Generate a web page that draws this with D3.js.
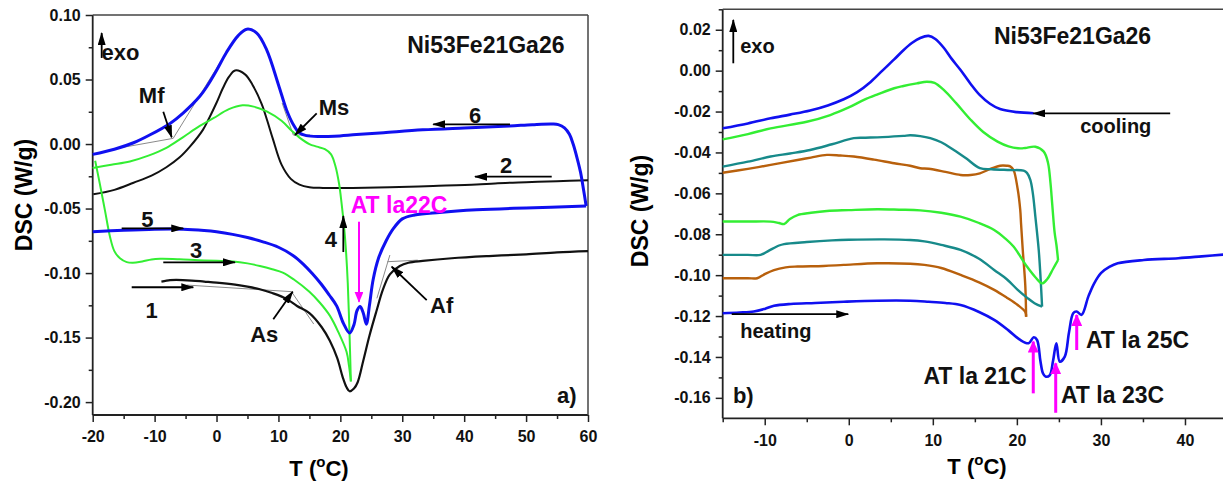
<!DOCTYPE html>
<html>
<head>
<meta charset="utf-8">
<script src="https://cdn.jsdelivr.net/npm/d3@7"></script>
<style>
  body { margin: 0; background: #fff; }
  svg { display: block; font-family: "Liberation Sans", Arial, sans-serif; font-weight: bold; }
</style>
</head>
<body>
<div id="chart"></div>
<script>
const width = 1223;
const height = 483;

// ---------- panel a) : [T (oC), DSC (W/g)] ----------
const a_heat1 = [[-8.9,-0.1066],[-7.5,-0.1055],[-6.5,-0.1053],[-4,-0.1058],[-2,-0.1066],[0,-0.1074],[3,-0.109],[5,-0.1105],[7,-0.1125],[9,-0.1155],[11.3,-0.120],[13,-0.1255],[15,-0.131],[17,-0.142],[18.3,-0.1525],[19.5,-0.166],[20.4,-0.181],[21,-0.1885],[21.5,-0.1916],[22.2,-0.1895],[22.8,-0.1846],[23.7,-0.168],[24.7,-0.1486],[25.8,-0.130],[26.9,-0.1125],[28,-0.101],[29.6,-0.0945],[31,-0.092],[33.3,-0.0906],[38,-0.0885],[44,-0.0868],[50,-0.0855],[55,-0.084],[60,-0.083]];
const a_cool2 = [[60,-0.028],[55,-0.0288],[50,-0.0296],[45,-0.0305],[42,-0.0314],[35,-0.0325],[28,-0.0335],[22,-0.034],[17.2,-0.034],[15,-0.0335],[13.4,-0.0315],[12,-0.027],[10.5,-0.016],[9.1,0.004],[8.2,0.018],[7.3,0.031],[5.8,0.046],[4.6,0.054],[3.0,0.057],[2.0,0.052],[1.0,0.043],[0,0.032],[-1.2,0.020],[-2.2,0.011],[-4.3,-0.002],[-6,-0.0105],[-8.1,-0.018],[-10.5,-0.0245],[-13.4,-0.030],[-16.5,-0.0355],[-19.9,-0.039]];
const a_heat3 = [[-19.6,-0.013],[-18.8,-0.032],[-18,-0.052],[-17.2,-0.072],[-16.5,-0.083],[-15.6,-0.0885],[-14.5,-0.0915],[-13.5,-0.092],[-12,-0.091],[-10.5,-0.0895],[-9.1,-0.089],[-6,-0.0893],[-3,-0.090],[0,-0.0905],[2.7,-0.091],[5,-0.0925],[7,-0.0945],[9,-0.097],[10.7,-0.0996],[12.5,-0.105],[15,-0.1145],[16.7,-0.123],[18.3,-0.133],[19.7,-0.146],[21,-0.161],[21.4,-0.172],[21.7,-0.184]];
const a_cool4 = [[21.7,-0.184],[21.5,-0.15],[21.2,-0.108],[20.9,-0.082],[20.6,-0.064],[20.2,-0.046],[19.8,-0.031],[19.2,-0.017],[18.5,-0.008],[17.5,-0.004],[16.2,-0.002],[15,0.000],[13.4,0.005],[12.2,0.010],[10.5,0.018],[8.1,0.0253],[6,0.029],[4.2,0.030],[2,0.027],[-0.5,0.020],[-2.7,0.014],[-5.5,0.005],[-8.1,-0.003],[-11,-0.009],[-14,-0.0135],[-17,-0.016],[-20,-0.0185]];
const a_heat5 = [[-20,-0.068],[-15,-0.0668],[-10,-0.066],[-5.4,-0.066],[-2,-0.067],[0,-0.068],[2.6,-0.070],[5,-0.0725],[7.5,-0.0758],[10,-0.0800],[12.4,-0.0865],[14,-0.093],[15.5,-0.1005],[16.9,-0.1085],[18.2,-0.117],[19.4,-0.1254],[20.5,-0.139],[21.5,-0.1465],[22.2,-0.140],[22.7,-0.129],[23.2,-0.126],[23.7,-0.131],[24.2,-0.1396],[24.7,-0.125],[25.3,-0.105],[26.2,-0.088],[27.4,-0.075],[28.5,-0.066],[30,-0.058],[32,-0.055],[36,-0.053],[42,-0.051],[48,-0.0498],[54,-0.049],[59.7,-0.048]];
const a_cool6 = [[59.7,-0.048],[59.3,-0.036],[58.8,-0.022],[58.3,-0.012],[57.6,0.000],[57,0.0075],[56.2,0.0125],[55.2,0.015],[54.3,0.0155],[51,0.015],[47.3,0.014],[40,0.0125],[33.3,0.011],[27,0.0088],[22.6,0.0073],[19,0.006],[16.7,0.0058],[14.5,0.0065],[13.4,0.0086],[12.3,0.016],[11.3,0.0266],[10,0.046],[8.1,0.073],[6.5,0.086],[4.9,0.089],[3.5,0.084],[1.6,0.071],[0,0.057],[-1.5,0.045],[-2.7,0.037],[-5.4,0.024],[-7.5,0.016],[-10.8,0.007],[-13.4,0.001],[-16.5,-0.004],[-20,-0.008]];
const a_tangents = [
  [[-15.6,-0.0030],[-7.0,0.0044],[0.55,0.0630]],
  [[10.6,0.0318],[12.4,0.0070],[15.1,0.0070]],
  [[-4.8,-0.1093],[12.1,-0.1144],[15.7,-0.1395]],
  [[25.9,-0.1196],[28.0,-0.0860]],
  [[27.6,-0.0912],[32.5,-0.0900]]
];
const a_x_ticks = [-20, -10, 0, 10, 20, 30, 40, 50, 60];
const a_y_ticks = [-0.20, -0.15, -0.10, -0.05, 0.00, 0.05, 0.10];
const a_labels = [
  { text: 'Ni53Fe21Ga26', t: 43.5, v: 0.0703, size: 23 },
  { text: 'exo', t: -15.5, v: 0.0651, size: 22 },
  { text: 'Mf', t: -10.47, v: 0.0316, size: 22 },
  { text: 'Ms', t: 18.98, v: 0.0225, size: 22 },
  { text: '6', t: 41.76, v: 0.0161, size: 22 },
  { text: '2', t: 46.76, v: -0.0227, size: 22 },
  { text: '5', t: -11.15, v: -0.0641, size: 22 },
  { text: '3', t: -3.31, v: -0.0886, size: 22 },
  { text: '1', t: -10.47, v: -0.1350, size: 22 },
  { text: 'As', t: 7.7, v: -0.1532, size: 22 },
  { text: 'Af', t: 36.37, v: -0.1312, size: 22 },
  { text: '4', t: 18.46, v: -0.0796, size: 22 },
  { text: 'AT la22C', t: 29.48, v: -0.0537, size: 23, color: '#ff00ff' },
  { text: 'a)', t: 56.56, v: -0.2007, size: 22 }
];
const a_arrows = [
  [[-18.55,0.0667],[-18.55,0.0860]],
  [[-8.6,0.0250],[-7.24,0.0052]],
  [[16.18,0.0238],[12.68,0.0070]],
  [[47.4,0.0153],[35.0,0.0153]],
  [[54.14,-0.0253],[41.75,-0.0253]],
  [[-15.32,-0.0654],[-5.37,-0.0654]],
  [[-8.6,-0.0917],[2.98,-0.0917]],
  [[-13.7,-0.1110],[-3.75,-0.1110]],
  [[9.17,-0.1358],[12.3,-0.1144]],
  [[33.95,-0.1209],[28.3,-0.0951]],
  [[20.48,-0.0837],[20.48,-0.0558]]
];
const a_pink_arrows = [[[23.01,-0.0602],[23.01,-0.1222]]];

// ---------- panel b) ----------
const b_blue_cool = [[22,-0.0208],[20,-0.0203],[18,-0.0188],[16.8,-0.0162],[15.6,-0.0120],[14.5,-0.0065],[13.3,0.0003],[12.2,0.006],[11.3,0.0112],[10.3,0.0155],[9.5,0.017],[8.5,0.016],[7.5,0.0135],[6.5,0.0100],[5.4,0.0055],[4,0.0000],[2.6,-0.0055],[1,-0.0105],[-0.6,-0.0140],[-2.5,-0.0170],[-4.6,-0.0195],[-7,-0.0215],[-9.3,-0.0233],[-12,-0.0258],[-15,-0.0282]];
const b_green_cool = [[24.9,-0.0926],[24.7,-0.085],[24.5,-0.0795],[24.2,-0.065],[24,-0.055],[23.7,-0.045],[23.2,-0.0396],[22.2,-0.0372],[21,-0.0378],[20.4,-0.038],[19,-0.037],[17.7,-0.0347],[16,-0.030],[14.5,-0.024],[12.8,-0.016],[11.3,-0.0094],[10.2,-0.006],[9.3,-0.0054],[8.1,-0.0062],[6.5,-0.0075],[5.4,-0.0086],[3.5,-0.0115],[1.8,-0.0143],[0,-0.018],[-2.2,-0.0217],[-5,-0.025],[-9.3,-0.0282],[-12,-0.031],[-15,-0.0336]];
const b_teal_cool = [[23,-0.1154],[22.8,-0.100],[22.6,-0.0877],[22.2,-0.0714],[21.9,-0.060],[21.6,-0.0534],[21.2,-0.050],[20.8,-0.0489],[19.2,-0.0486],[17,-0.0482],[15.6,-0.0477],[14,-0.043],[12.5,-0.0388],[11,-0.035],[9.7,-0.033],[8.5,-0.032],[7.3,-0.0316],[6.5,-0.0319],[4,-0.0325],[2,-0.0328],[0.6,-0.033],[-2,-0.036],[-4.6,-0.0388],[-7,-0.0405],[-9.3,-0.042],[-12,-0.0445],[-15,-0.0469]];
const b_brown_cool = [[21.1,-0.1203],[21,-0.105],[20.7,-0.0877],[20.5,-0.075],[20.4,-0.0681],[20.1,-0.058],[19.6,-0.0486],[19.2,-0.0468],[18.8,-0.0465],[18,-0.0465],[17,-0.0478],[15.6,-0.0502],[14.5,-0.051],[13.3,-0.051],[11.5,-0.0495],[9.5,-0.048],[8.5,-0.0477],[7.3,-0.0465],[5.4,-0.0453],[3,-0.0435],[0.6,-0.042],[-1,-0.0415],[-2.6,-0.0412],[-4.5,-0.0425],[-6.1,-0.0437],[-9.3,-0.0461],[-12,-0.048],[-15,-0.0499]];
const b_green_heat = [[-15,-0.0738],[-12,-0.0738],[-9.3,-0.0738],[-8.3,-0.0745],[-7.7,-0.075],[-7,-0.0725],[-6.1,-0.0706],[-4.5,-0.0695],[-2.6,-0.0686],[0,-0.0682],[3.4,-0.0678],[6,-0.068],[8.5,-0.0683],[11,-0.0695],[13.3,-0.0714],[15.5,-0.0745],[17.3,-0.0779],[18.6,-0.082],[19.6,-0.086],[21.2,-0.0958],[22.2,-0.101],[23,-0.104],[23.6,-0.102],[24.3,-0.097],[24.9,-0.0926]];
const b_teal_heat = [[-15,-0.0901],[-12,-0.0901],[-10.5,-0.0901],[-9.5,-0.088],[-8.3,-0.0855],[-7.7,-0.0848],[-5,-0.0838],[-2,-0.083],[0,-0.0827],[4.2,-0.0825],[7.3,-0.0828],[9,-0.0835],[11,-0.0852],[13.3,-0.0877],[15.5,-0.092],[17.3,-0.0975],[18.8,-0.102],[20.1,-0.1072],[21.2,-0.111],[22.1,-0.1137],[23,-0.1154]];
const b_brown_heat = [[-15,-0.1015],[-12,-0.1015],[-10.9,-0.1015],[-10,-0.0995],[-8.9,-0.0975],[-7.5,-0.0962],[-6.1,-0.0958],[-3,-0.0955],[-0.6,-0.095],[3.4,-0.0942],[7.3,-0.0944],[9,-0.095],[11,-0.0965],[13.3,-0.0999],[15.5,-0.1035],[17.3,-0.1072],[18.8,-0.111],[20.1,-0.1146],[21,-0.118],[21.1,-0.1203]];
const b_blue_heat = [[-15,-0.1186],[-13,-0.1183],[-11.3,-0.1178],[-10,-0.1165],[-8.9,-0.115],[-6.9,-0.1141],[-4,-0.1136],[-0.6,-0.113],[3.4,-0.1125],[7.3,-0.1125],[9.5,-0.113],[11.5,-0.1136],[13.3,-0.1146],[15.5,-0.118],[17.3,-0.1219],[19,-0.127],[20.4,-0.1317],[21.4,-0.1333],[22,-0.1304],[22.4,-0.1317],[22.8,-0.142],[23.1,-0.148],[23.4,-0.1496],[23.9,-0.149],[24.3,-0.142],[24.7,-0.1333],[25.1,-0.1423],[25.7,-0.1398],[26.2,-0.128],[26.7,-0.1186],[27.1,-0.1178],[27.7,-0.1194],[28.5,-0.1105],[29.2,-0.104],[30,-0.099],[31,-0.096],[32,-0.0942],[35.1,-0.0926],[39.2,-0.0917],[42,-0.0908],[45,-0.0898]];
const b_x_ticks = [-10, 0, 10, 20, 30, 40];
const b_y_ticks = [-0.16, -0.14, -0.12, -0.10, -0.08, -0.06, -0.04, -0.02, 0.00, 0.02];
const b_labels = [
  { text: 'Ni53Fe21Ga26', t: 26.62, v: 0.0129, size: 23 },
  { text: 'exo', t: -10.86, v: 0.0085, size: 20 },
  { text: 'cooling', t: 31.77, v: -0.0306, size: 20 },
  { text: 'heating', t: -8.68, v: -0.1309, size: 20 },
  { text: 'b)', t: -12.55, v: -0.1627, size: 22 },
  { text: 'AT la 21C', t: 15.02, v: -0.1532, size: 23 },
  { text: 'AT la 23C', t: 31.38, v: -0.1624, size: 23 },
  { text: 'AT la 25C', t: 34.35, v: -0.1358, size: 23 }
];
const b_arrows = [
  [[-13.74,0.0036],[-13.74,0.0248]],
  [[38.24,-0.0209],[21.96,-0.0209]],
  [[-13.93,-0.1191],[-0.06,-0.1191]]
];
const b_pink_arrows = [
  [[21.95,-0.1578],[21.95,-0.1325]],
  [[24.62,-0.1673],[24.62,-0.1431]],
  [[27.12,-0.1366],[27.12,-0.1195]]
];

const svg = d3.select('#chart')
  .append('svg')
    .attr('width', width)
    .attr('height', height);

const defs = svg.append('defs');
let add_marker = (id, color, w, h) => {
  defs.append('marker')
      .attr('id', id)
      .attr('viewBox', `0 0 ${w} ${h}`)
      .attr('refX', w - 1)
      .attr('refY', h / 2)
      .attr('markerWidth', w)
      .attr('markerHeight', h)
      .attr('markerUnits', 'userSpaceOnUse')
      .attr('orient', 'auto')
    .append('path')
      .attr('d', `M0,0L${w},${h/2}L0,${h}Z`)
      .attr('fill', color);
}
add_marker('head-black', '#000', 13, 8);
add_marker('head-pink', '#ff00ff', 11, 9);
add_marker('head-pink-big', '#ff00ff', 12, 11);

let draw_panel = (opt) => {
  const g = svg.append('g');
  const x = d3.scaleLinear().domain(opt.xDomain).range(opt.xRange);
  const y = d3.scaleLinear().domain(opt.yDomain).range(opt.yRange);
  const [x0, x1] = opt.xRange;
  const [y0, y1] = opt.yRange;
  const fmt_y = d => (Math.abs(d) < 1e-9 ? 0 : d).toFixed(2);

  const minor_x = d3.range(opt.xDomain[0], opt.xDomain[1] + 0.001, opt.xMinor)
    .filter(d => !opt.xTicks.some(t => Math.abs(t - d) < 1e-6));
  const minor_y = d3.range(opt.yTicks[0], opt.yDomain[1] + 1e-6, opt.yMinor)
    .filter(d => !opt.yTicks.some(t => Math.abs(t - d) < 1e-6));

  g.append('g')
      .attr('transform', `translate(0,${y0})`)
      .call(d3.axisBottom(x).tickValues(opt.xTicks).tickSize(7).tickSizeOuter(0)
        .tickPadding(9).tickFormat(d => String(d)));
  g.append('g')
      .attr('transform', `translate(0,${y0})`)
      .call(d3.axisBottom(x).tickValues(minor_x).tickSize(4).tickSizeOuter(0).tickFormat(''));
  g.append('g')
      .attr('transform', `translate(${x0},0)`)
      .call(d3.axisLeft(y).tickValues(opt.yTicks).tickSize(7).tickSizeOuter(0)
        .tickPadding(5).tickFormat(fmt_y));
  g.append('g')
      .attr('transform', `translate(${x0},0)`)
      .call(d3.axisLeft(y).tickValues(minor_y).tickSize(4).tickSizeOuter(0).tickFormat(''));
  g.selectAll('.domain').remove();
  g.selectAll('.tick line').attr('stroke', '#222').attr('stroke-width', 1.5);
  g.selectAll('.tick text')
      .attr('fill', '#111')
      .style('font-size', '16px')
      .style('font-weight', 'bold')
      .style('font-family', '"Liberation Sans", Arial, sans-serif');

  // frame
  g.append('line').attr('x1', x0).attr('x2', x0).attr('y1', y0).attr('y2', y1)
      .attr('stroke', '#222').attr('stroke-width', 1.8);
  g.append('line').attr('x1', x0).attr('x2', x1).attr('y1', y0).attr('y2', y0)
      .attr('stroke', '#222').attr('stroke-width', 1.8);
  g.append('line').attr('x1', x0).attr('x2', x1).attr('y1', y1).attr('y2', y1)
      .attr('stroke', '#444').attr('stroke-width', 1.5);
  if (opt.rightFrame) {
    g.append('line').attr('x1', x1).attr('x2', x1).attr('y1', y0).attr('y2', y1)
        .attr('stroke', '#444').attr('stroke-width', 1.5);
  }

  // axis titles
  g.append('text')
      .attr('transform', `translate(${opt.yTitle[0]},${opt.yTitle[1]}) rotate(-90)`)
      .attr('text-anchor', 'middle')
      .style('font-size', '23px')
      .text('DSC (W/g)');
  const tt = g.append('text')
      .attr('x', opt.xTitle[0]).attr('y', opt.xTitle[1])
      .attr('text-anchor', 'middle')
      .style('font-size', '22px');
  tt.append('tspan').text('T (');
  tt.append('tspan').attr('dy', -9).style('font-size', '15px').text('o');
  tt.append('tspan').attr('dy', 9).text('C)');

  return { g, x, y };
}

let line_of = (x, y) => d3.line()
  .x(d => x(d[0]))
  .y(d => y(d[1]))
  .curve(d3.curveCatmullRom.alpha(0.5));

let draw_curves = (p, curves) => {
  p.g.append('g').selectAll('path')
      .data(curves)
    .join('path')
      .attr('d', d => line_of(p.x, p.y)(d.data))
      .attr('fill', 'none')
      .attr('stroke', d => d.color)
      .attr('stroke-width', d => d.width)
      .attr('stroke-linejoin', 'round');
}

let draw_arrows = (p, arrows, color, w, marker) => {
  p.g.append('g').selectAll('line')
      .data(arrows)
    .join('line')
      .attr('x1', d => p.x(d[0][0])).attr('y1', d => p.y(d[0][1]))
      .attr('x2', d => p.x(d[1][0])).attr('y2', d => p.y(d[1][1]))
      .attr('stroke', color)
      .attr('stroke-width', w)
      .attr('marker-end', `url(#${marker})`);
}

let draw_labels = (p, labels) => {
  p.g.append('g').selectAll('text')
      .data(labels)
    .join('text')
      .attr('x', d => p.x(d.t))
      .attr('y', d => p.y(d.v))
      .attr('text-anchor', 'middle')
      .attr('fill', d => d.color || '#111')
      .style('font-size', d => d.size + 'px')
      .text(d => d.text);
}

// ---------- panel a ----------
const pa = draw_panel({
  xDomain: [-20, 60], xRange: [92.7, 588],
  yDomain: [-0.21, 0.10], yRange: [415, 15],
  xTicks: a_x_ticks, yTicks: a_y_ticks, xMinor: 5, yMinor: 0.025,
  rightFrame: true, yTitle: [32, 195], xTitle: [319, 476]
});
pa.g.append('g').selectAll('path')
    .data(a_tangents)
  .join('path')
    .attr('d', d => d3.line().x(e => pa.x(e[0])).y(e => pa.y(e[1]))(d))
    .attr('fill', 'none')
    .attr('stroke', '#8a8a8a')
    .attr('stroke-width', 1);
draw_curves(pa, [
  { data: a_cool2, color: '#111', width: 2 },
  { data: a_heat1, color: '#111', width: 2.2 },
  { data: a_heat3, color: '#33ee33', width: 2 },
  { data: a_cool4, color: '#33ee33', width: 2 },
  { data: a_heat5, color: '#1010f0', width: 3 },
  { data: a_cool6, color: '#1010f0', width: 3 }
]);
draw_arrows(pa, a_arrows, '#000', 1.8, 'head-black');
draw_arrows(pa, a_pink_arrows, '#ff00ff', 2, 'head-pink');
draw_labels(pa, a_labels);

// ---------- panel b ----------
const pb = draw_panel({
  xDomain: [-15, 45], xRange: [722.7, 1227],
  yDomain: [-0.17, 0.03], yRange: [418.3, 9.3],
  xTicks: b_x_ticks, yTicks: b_y_ticks, xMinor: 5, yMinor: 0.01,
  rightFrame: false, yTitle: [648, 211], xTitle: [977, 474]
});
draw_curves(pb, [
  { data: b_brown_heat, color: '#b8600c', width: 2.4 },
  { data: b_brown_cool, color: '#b8600c', width: 2.4 },
  { data: b_teal_heat, color: '#178a8a', width: 2.4 },
  { data: b_teal_cool, color: '#178a8a', width: 2.4 },
  { data: b_green_heat, color: '#33ee33', width: 2.4 },
  { data: b_green_cool, color: '#33ee33', width: 2.4 },
  { data: b_blue_heat, color: '#1010f0', width: 2.6 },
  { data: b_blue_cool, color: '#1010f0', width: 2.6 }
]);
draw_arrows(pb, b_arrows, '#000', 1.8, 'head-black');
draw_arrows(pb, b_pink_arrows, '#ff00ff', 3, 'head-pink-big');
draw_labels(pb, b_labels);
</script>
</body>
</html>
